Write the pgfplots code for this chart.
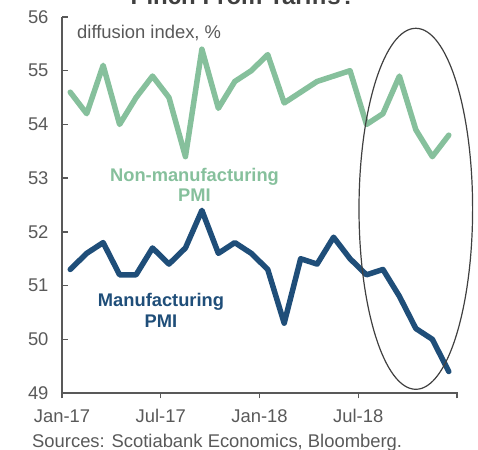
\documentclass[border=0pt]{standalone}
\usepackage{pgfplots}
\pgfplotsset{compat=1.18}
\usepackage{fontspec}
\setmainfont{Liberation Sans}
\definecolor{nmgreen}{HTML}{86C09C}
\definecolor{mblue}{HTML}{1F4E79}
\definecolor{txtgray}{HTML}{595959}
\definecolor{axgray}{HTML}{595959}
\definecolor{ellgray}{HTML}{404040}
\pgfplotstableread{
x nm m
0.5 54.6 51.3
1.5 54.2 51.6
2.5 55.1 51.8
3.5 54.0 51.2
4.5 54.5 51.2
5.5 54.9 51.7
6.5 54.5 51.4
7.5 53.4 51.7
8.5 55.4 52.4
9.5 54.3 51.6
10.5 54.8 51.8
11.5 55.0 51.6
12.5 55.3 51.3
13.5 54.4 50.3
14.5 54.6 51.5
15.5 54.8 51.4
16.5 54.9 51.9
17.5 55.0 51.5
18.5 54.0 51.2
19.5 54.2 51.3
20.5 54.9 50.8
21.5 53.9 50.2
22.5 53.4 50.0
23.5 53.8 49.4
}\pmidata
\begin{document}
\begin{tikzpicture}[x=1pt,y=1pt]
\path[use as bounding box] (0,0) rectangle (478,449);
\begin{axis}[
  at={(62pt,56pt)}, anchor=south west,
  scale only axis, width=395pt, height=376pt,
  xmin=0, xmax=24, ymin=49, ymax=56,
  axis lines*=left,
  axis line style={axgray, line width=1.4pt},
  xtick={0,6,12,18,24},
  xticklabels={Jan-17,Jul-17,Jan-18,Jul-18,{}},
  ytick={49,50,...,56},
  tick align=inside,
  major tick length=6pt,
  tick style={axgray, line width=1.4pt},
  x tick style={yshift=-5.5pt},
  /pgf/number format/assume math mode=true,
  every tick label/.append style={font=\fontsize{18.4}{22}\selectfont, text=txtgray},
  yticklabel style={anchor=east, xshift=-10pt},
  xticklabel style={anchor=base, yshift=-29pt},
  clip=false,
]
\addplot[nmgreen, line width=5.5pt, line join=round, line cap=round] table[x=x, y=nm] {\pmidata};
\addplot[mblue, line width=5.5pt, line join=round, line cap=round] table[x=x, y=m] {\pmidata};
\end{axis}
\draw[ellgray, line width=1.2pt] (415.8,240.2) ellipse [x radius=56.8, y radius=180.5];
\node[anchor=base, font=\bfseries\fontsize{24}{28}\selectfont, text=ellgray] at (243,444) {Pinch From Tariffs?};
\node[anchor=base west, inner sep=0pt, font=\fontsize{18.4}{22}\selectfont, text=txtgray] at (77,410) {diffusion index, \%};
\node[anchor=base, inner sep=0pt, font=\bfseries\fontsize{18.3}{22}\selectfont, text=nmgreen] at (194.5,267) {Non-manufacturing};
\node[anchor=base, inner sep=0pt, font=\bfseries\fontsize{18.3}{22}\selectfont, text=nmgreen] at (194.5,247) {PMI};
\node[anchor=base, inner sep=0pt, font=\bfseries\fontsize{18.3}{22}\selectfont, text=mblue] at (161,142) {Manufacturing};
\node[anchor=base, inner sep=0pt, font=\bfseries\fontsize{18.3}{22}\selectfont, text=mblue] at (161,121) {PMI};
\node[anchor=base west, inner sep=0pt, font=\fontsize{18.4}{22}\selectfont, text=txtgray] at (32,2) {Sources: Scotiabank Economics, Bloomberg.};
\end{tikzpicture}
\end{document}
